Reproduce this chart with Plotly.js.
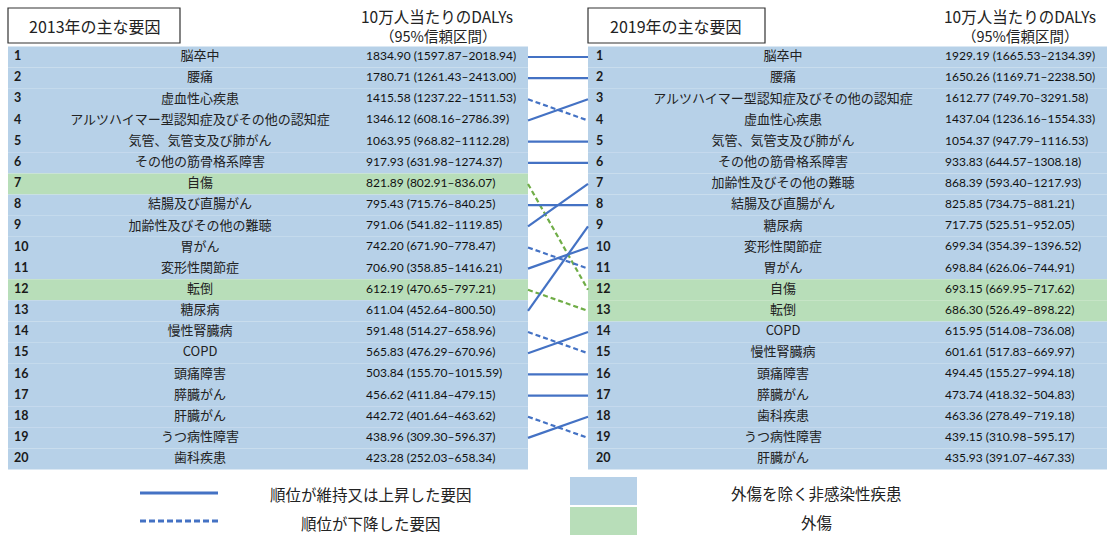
<!DOCTYPE html>
<html>
<head>
<meta charset="utf-8">
<script src="https://cdn.plot.ly/plotly-3.0.1.min.js"></script>
<style>
  body { margin: 0; background: #fff; }
  #chart { width: 1107px; height: 536px; }
</style>
</head>
<body>
<div id="chart"></div>
<script>
// 2013 ranking
const names2013 = ['脳卒中', '腰痛', '虚血性心疾患', 'アルツハイマー型認知症及びその他の認知症', '気管、気管支及び肺がん',
  'その他の筋骨格系障害', '自傷', '結腸及び直腸がん', '加齢性及びその他の難聴', '胃がん', '変形性関節症', '転倒',
  '糖尿病', '慢性腎臓病', 'COPD', '頭痛障害', '膵臓がん', '肝臓がん', 'うつ病性障害', '歯科疾患'];
const val2013 = [1834.90, 1780.71, 1415.58, 1346.12, 1063.95, 917.93, 821.89, 795.43, 791.06, 742.20,
  706.90, 612.19, 611.04, 591.48, 565.83, 503.84, 456.62, 442.72, 438.96, 423.28];
const lo2013 = [1597.87, 1261.43, 1237.22, 608.16, 968.82, 631.98, 802.91, 715.76, 541.82, 671.90,
  358.85, 470.65, 452.64, 514.27, 476.29, 155.70, 411.84, 401.64, 309.30, 252.03];
const hi2013 = [2018.94, 2413.00, 1511.53, 2786.39, 1112.28, 1274.37, 836.07, 840.25, 1119.85, 778.47,
  1416.21, 797.21, 800.50, 658.96, 670.96, 1015.59, 479.15, 463.62, 596.37, 658.34];

// 2019 ranking
const names2019 = ['脳卒中', '腰痛', 'アルツハイマー型認知症及びその他の認知症', '虚血性心疾患', '気管、気管支及び肺がん',
  'その他の筋骨格系障害', '加齢性及びその他の難聴', '結腸及び直腸がん', '糖尿病', '変形性関節症', '胃がん', '自傷',
  '転倒', 'COPD', '慢性腎臓病', '頭痛障害', '膵臓がん', '歯科疾患', 'うつ病性障害', '肝臓がん'];
const val2019 = [1929.19, 1650.26, 1612.77, 1437.04, 1054.37, 933.83, 868.39, 825.85, 717.75, 699.34,
  698.84, 693.15, 686.30, 615.95, 601.61, 494.45, 473.74, 463.36, 439.15, 435.93];
const lo2019 = [1665.53, 1169.71, 749.70, 1236.16, 947.79, 644.57, 593.40, 734.75, 525.51, 354.39,
  626.06, 669.95, 526.49, 514.08, 517.83, 155.27, 418.32, 278.49, 310.98, 391.07];
const hi2019 = [2134.39, 2238.50, 3291.58, 1554.33, 1116.53, 1308.18, 1217.93, 881.21, 952.05, 1396.52,
  744.91, 717.62, 898.22, 736.08, 669.97, 994.18, 504.83, 719.18, 595.17, 467.33];

// injuries get the green row
const injuries = ['自傷', '転倒'];

// connector lines as drawn in the figure (2013 rank -> 2019 rank)
const linkFrom = [1, 2, 3, 4, 5, 6, 7, 8, 9, 10, 11, 12, 13, 14, 15, 16, 17, 18, 19];
const linkTo   = [1, 2, 4, 3, 5, 6, 12, 8, 7, 11, 10, 13, 9, 15, 14, 16, 17, 19, 18];

const BLUE = '#b7d1e8';
const GREEN = '#b8deb9';
const LINE_BLUE = '#4472c4';
const LINE_GREEN = '#70ad47';
const JP = '"Noto Sans CJK JP", "Noto Sans", sans-serif';
const NUM = 'Lato, "Open Sans", sans-serif';

const W = 1107, H = 536;
const py = p => 1 - p / H;   // pixel row -> paper y

const ranks = names2013.map((n, i) => i + 1);
const fmt = (v, lo, hi) => v.toFixed(2) + ' (' + lo.toFixed(2) + '–' + hi.toFixed(2) + ')';

// table columns (pixel x)
const tables = [
  {names: names2013, val: val2013, lo: lo2013, hi: hi2013, x0: 8, x1: 528, rankX: 14, nameX: 200, valX: 366},
  {names: names2019, val: val2019, lo: lo2019, hi: hi2019, x0: 588, x1: 1107, rankX: 596, nameX: 783, valX: 945}
];

const shapes = [];
const traces = [];

tables.forEach(t => {
  ranks.forEach((r, i) => {
    shapes.push({
      type: 'rect', xref: 'x', yref: 'y', layer: 'below',
      x0: t.x0, x1: t.x1, y0: r - 0.5, y1: r + 0.5,
      fillcolor: injuries.includes(t.names[i]) ? GREEN : BLUE,
      line: {width: 0}
    });
  });
  traces.push({
    type: 'scatter', mode: 'text', x: ranks.map(() => t.rankX), y: ranks,
    text: ranks.map(String), textposition: 'middle right', hoverinfo: 'skip',
    textfont: {family: NUM, size: 12.5, color: '#1a1a1a', weight: 'bold'}
  });
  traces.push({
    type: 'scatter', mode: 'text', x: ranks.map(() => t.nameX), y: ranks,
    text: t.names, textposition: 'middle center', hoverinfo: 'skip',
    textfont: {family: JP, size: 13, color: '#222'}
  });
  traces.push({
    type: 'scatter', mode: 'text', x: ranks.map(() => t.valX), y: ranks,
    text: t.val.map((v, i) => fmt(v, t.lo[i], t.hi[i])), textposition: 'middle right', hoverinfo: 'skip',
    textfont: {family: NUM, size: 12, color: '#111'}
  });
});

// connectors
linkFrom.forEach((f, i) => {
  const to = linkTo[i];
  const injury = injuries.includes(names2013[f - 1]);
  shapes.push({
    type: 'line', xref: 'x', yref: 'y',
    x0: 528, x1: 588, y0: f, y1: to,
    line: {color: injury ? LINE_GREEN : LINE_BLUE, width: 2.2, dash: to > f ? '5px,3px' : 'solid'}
  });
});

// title boxes
[[8, 180], [588, 765]].forEach(b => {
  shapes.push({
    type: 'rect', xref: 'x', yref: 'paper', x0: b[0], x1: b[1], y0: py(43), y1: py(8),
    fillcolor: '#fff', line: {color: '#333', width: 1.2}
  });
});

// legend marks
shapes.push({type: 'line', xref: 'x', yref: 'paper', x0: 140, x1: 218, y0: py(493), y1: py(493),
  line: {color: LINE_BLUE, width: 3}});
shapes.push({type: 'line', xref: 'x', yref: 'paper', x0: 140, x1: 218, y0: py(521), y1: py(521),
  line: {color: LINE_BLUE, width: 3, dash: '6px,3px'}});
shapes.push({type: 'rect', xref: 'x', yref: 'paper', x0: 570, x1: 637, y0: py(505), y1: py(477),
  fillcolor: BLUE, line: {width: 0}});
shapes.push({type: 'rect', xref: 'x', yref: 'paper', x0: 570, x1: 637, y0: py(535), y1: py(507),
  fillcolor: GREEN, line: {width: 0}});

const ann = (text, x, y, size) => ({
  text: text, xref: 'x', yref: 'paper', x: x, y: py(y), showarrow: false,
  xanchor: 'center', yanchor: 'middle', borderpad: 0,
  font: {family: JP, size: size || 14, color: '#222'}
});

const annotations = [
  ann('2013年の主な要因', 95, 26, 16),
  ann('2019年の主な要因', 676, 26, 16),
  ann('10万人当たりのDALYs', 437, 16, 15.5),
  ann('（95%信頼区間）', 438, 36, 14.5),
  ann('10万人当たりのDALYs', 1020, 16, 15.5),
  ann('（95%信頼区間）', 1020, 36, 14.5),
  ann('順位が維持又は上昇した要因', 371, 494, 15.5),
  ann('順位が下降した要因', 371, 523, 15.5),
  ann('外傷を除く非感染性疾患', 816, 493, 15.5),
  ann('外傷', 816, 522, 15.5)
];

// row 1 centre at y=57px, row pitch 21.16px
const rowPitch = 21.16, row1Px = 57;
const layout = {
  width: W, height: H,
  margin: {l: 0, r: 0, t: 0, b: 0},
  paper_bgcolor: '#fff', plot_bgcolor: '#fff',
  showlegend: false,
  xaxis: {range: [0, W], visible: false, fixedrange: true},
  yaxis: {range: [1 + (H - row1Px) / rowPitch, 1 - row1Px / rowPitch], visible: false, fixedrange: true},
  shapes: shapes,
  annotations: annotations
};

Plotly.newPlot('chart', traces, layout, {staticPlot: true});
</script>
</body>
</html>
